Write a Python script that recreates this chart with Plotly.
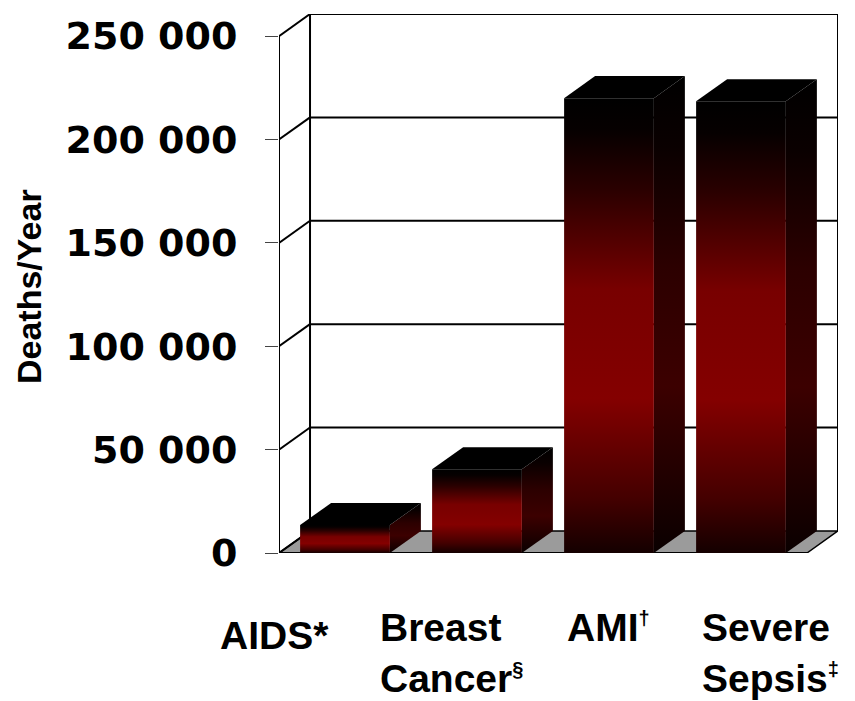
import plotly.graph_objects as go

# ---- data -------------------------------------------------------------
categories = ["AIDS", "Breast Cancer", "AMI", "Severe Sepsis"]
deaths_per_year = [13500, 40500, 220000, 218500]
MARK = "<sup><span style='font-size:20px'>{}</span></sup>"
label_lines = [
    ["AIDS*"],
    ["Breast", "Cancer" + MARK.format("§")],
    ["AMI" + MARK.format("†")],
    ["Severe", "Sepsis" + MARK.format("‡")],
]
tick_values = [0, 50000, 100000, 150000, 200000, 250000]
tick_labels = ["0", "50 000", "100 000", "150 000", "200 000", "250 000"]
y_title = "Deaths/Year"

# ---- layout geometry ------------------------------------------------------
W, H = 855, 701
M_L, M_R, M_T, M_B = 279, 17, 14, 148
PLOT_W = W - M_L - M_R
PLOT_H = H - M_T - M_B
DX = 0.235          # depth of the pseudo-3D box, in category units
DY = 10700          # depth of the pseudo-3D box, in value units
BAR_W = 0.68
X0, X1 = -0.5, len(categories) - 0.5
Y_TOP = tick_values[-1]

FONT = "Liberation Sans, Arial, sans-serif"
TICK_FONT = "DejaVu Sans, Liberation Sans, sans-serif"

fig = go.Figure()


def add_poly(xs, ys, **kw):
    fig.add_trace(go.Scatter(x=xs, y=ys, hoverinfo="skip", showlegend=False, **kw))


# floor
add_poly([X0, X1, X1 + DX, X0 + DX, X0], [0, 0, DY, DY, 0],
         fill="toself", fillcolor="#9b9b9b", mode="lines",
         line=dict(color="black", width=1.5))

# walls: back verticals, back gridlines, side-wall diagonals, front-left edge
wx, wy = [], []
for xb in (X0 + DX, X1 + DX):
    wx += [xb, xb, None]
    wy += [DY, Y_TOP + DY, None]
for v in tick_values[1:]:
    wx += [X0 + DX, X1 + DX, None]
    wy += [v + DY, v + DY, None]
for v in tick_values:
    wx += [X0, X0 + DX, None]
    wy += [v, v + DY, None]
wx += [X0, X0, None, X0, X1]
wy += [0, Y_TOP, None, 0, 0]
add_poly(wx, wy, mode="lines", line=dict(color="black", width=2))

front_scale = [[0, "#140000"], [0.12, "#440000"], [0.34, "#840000"],
               [0.58, "#780000"], [0.8, "#2a0000"], [0.93, "#060000"],
               [1, "#000000"]]
side_scale = [[0, "#0a0000"], [0.35, "#3c0000"], [0.6, "#2c0000"],
              [0.85, "#0a0000"], [1, "#000000"]]

# bars: side face, top face, front face
for i, v in enumerate(deaths_per_year):
    xl, xr = i - BAR_W / 2, i + BAR_W / 2
    add_poly([xr, xr + DX, xr + DX, xr, xr], [0, DY, v + DY, v, 0],
             fill="toself", mode="none",
             fillgradient=dict(type="vertical", colorscale=side_scale))
    add_poly([xl, xr, xr + DX, xl + DX, xl], [v, v, v + DY, v + DY, v],
             fill="toself", mode="none", fillcolor="#000000")
    add_poly([xl, xr, xr, xl, xl], [0, 0, v, v, 0],
             fill="toself", mode="none",
             fillgradient=dict(type="vertical", colorscale=front_scale))


def px_x(px):
    return (px - M_L) / PLOT_W


def px_y(py):
    return (H - M_B - py) / PLOT_H


# category labels, one annotation per line
label_left = [218, 378, 565, 700]
line_mid = [[635], [627, 678], [627], [627, 678]]
for lines, left, mids in zip(label_lines, label_left, line_mid):
    for text, mid in zip(lines, mids):
        fig.add_annotation(
            text=text, xref="paper", yref="paper",
            x=px_x(left), y=px_y(mid), xanchor="left", yanchor="middle",
            showarrow=False, align="left",
            font=dict(family=FONT, size=39, color="black", weight="bold"))

fig.add_annotation(
    text=y_title, xref="paper", yref="paper",
    x=px_x(29), y=px_y(287), xanchor="center", yanchor="middle",
    textangle=-90, showarrow=False,
    font=dict(family=FONT, size=34, color="black", weight="bold"))

fig.update_layout(
    width=W, height=H, autosize=False,
    margin=dict(l=M_L, r=M_R, t=M_T, b=M_B, pad=0),
    paper_bgcolor="white", plot_bgcolor="white",
    showlegend=False,
    xaxis=dict(range=[X0, X1 + DX], visible=False, fixedrange=True),
    yaxis=dict(
        range=[0, Y_TOP + DY], tickmode="array",
        tickvals=tick_values, ticktext=tick_labels,
        ticks="outside", ticklen=13, tickwidth=1, tickcolor="#444444",
        ticklabelstandoff=20,
        showgrid=False, zeroline=False, showline=False, fixedrange=True,
        tickfont=dict(family=TICK_FONT, size=38, color="black", weight="bold"),
    ),
)

fig.write_html("out.html")
